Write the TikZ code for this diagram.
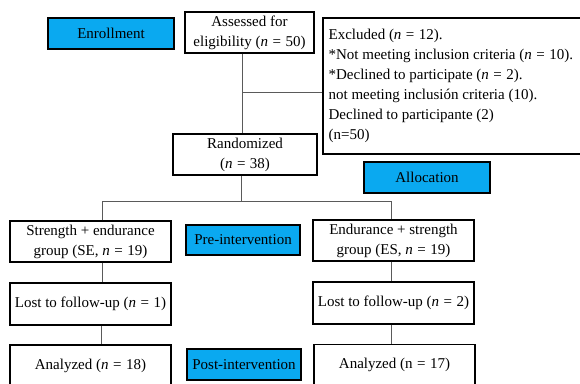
\documentclass[tikz,border=0pt]{standalone}
\usepackage{fontspec}
\setmainfont{Liberation Serif}
\definecolor{phase}{RGB}{10,169,240}
\definecolor{conncol}{RGB}{90,90,90}
\newcommand{\eq}{\hspace{0.3em}=\hspace{0.3em}}
\begin{document}
\begin{tikzpicture}[x=1pt,y=-1pt,
  every node/.style={font=\fontsize{15}{20}\selectfont, inner sep=0pt},
  box/.style={draw=black, line width=1.2pt, fill=white, align=center, minimum width=161pt, minimum height=41pt},
  phasebox/.style={draw=black, line width=1.2pt, fill=phase, align=center, minimum width=114pt, minimum height=30pt},
  conn/.style={draw=conncol, line width=0.9pt}]
\clip (0,0) rectangle (580,383);
\useasboundingbox (0,0) rectangle (580,383);
% phase labels
\node[phasebox, minimum width=126pt, minimum height=31pt] (enroll) at (111,33.5) {Enrollment};
\node[phasebox, minimum width=126pt, minimum height=31pt] (alloc) at (427,177.5) {Allocation};
\node[phasebox] (pre) at (243,240) {Pre-intervention};
\node[phasebox, minimum height=31pt] (post) at (244,364.5) {Post-intervention};
% main boxes
\node[box, minimum width=129pt] (assess) at (249.5,32.5) {Assessed for\\eligibility (\textit{n}\eq 50)};
\node[box, minimum width=258pt, minimum height=136pt] (excl) at (452,86) {};
\node[anchor=west, align=left] (excltext) at ([xshift=6pt]excl.west) {Excluded (\textit{n}\eq 12).\\
*Not meeting inclusion criteria (\textit{n}\eq 10).\\
*Declined to participate (\textit{n}\eq 2).\\
not meeting inclusión criteria (10).\\
Declined to participante (2)\\
(n=50)};
\node[box, minimum width=144pt] (rand) at (245,154.5) {Randomized\\(\textit{n}\eq 38)};
\node[box] (se) at (90.5,241.5) {Strength + endurance\\group (SE, \textit{n}\eq 19)};
\node[box] (es) at (393.5,240.5) {Endurance + strength\\group (ES, \textit{n}\eq 19)};
\node[box, minimum height=42pt] (lost1) at (90.5,304) {Lost to follow-up (\textit{n}\eq 1)};
\node[box, minimum height=42pt] (lost2) at (393.5,303) {Lost to follow-up (\textit{n}\eq 2)};
\node[box] (an1) at (90.5,365.5) {Analyzed (\textit{n}\eq 18)};
\node[box] (an2) at (394.5,365) {Analyzed (n\eq 17)};
% connectors
\coordinate (br1) at (242,92);
\coordinate (br2) at (241,201);
\draw[conn] (assess.south -| br1) -- (rand.north -| br1);
\draw[conn] (br1) -- (excl.west |- br1);
\draw[conn] (rand.south -| br2) -- (br2);
\coordinate (seTop) at (102,201);
\coordinate (esTop) at (391,201);
\draw[conn] (se.north -| seTop) -- (seTop) -- (esTop) -- (es.north -| esTop);
\draw[conn] (se.south -| seTop) -- (lost1.north -| seTop);
\draw[conn] (es.south -| esTop) -- (lost2.north -| esTop);
\draw[conn] (lost1.south -| 101,0) -- (an1.north -| 101,0);
\draw[conn] (lost2.south -| esTop) -- (an2.north -| esTop);
\end{tikzpicture}
\end{document}
